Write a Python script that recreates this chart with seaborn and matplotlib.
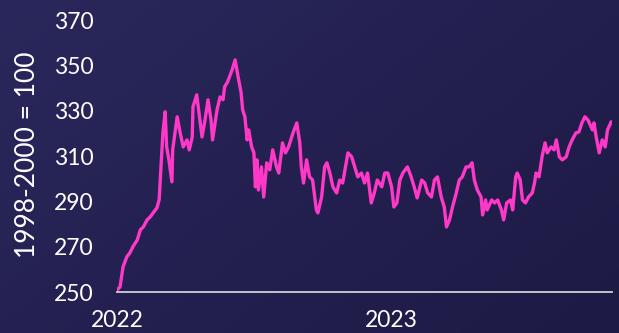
import numpy as np
import pandas as pd
import matplotlib
matplotlib.use("Agg")
import matplotlib.pyplot as plt
import seaborn as sns

dates = [
    "2022-01-01", "2022-01-05", "2022-01-09", "2022-01-14", "2022-01-18", "2022-01-22",
    "2022-01-28", "2022-02-01", "2022-02-05", "2022-02-10", "2022-02-14", "2022-02-18",
    "2022-02-23", "2022-02-26", "2022-02-28", "2022-03-03", "2022-03-06", "2022-03-08",
    "2022-03-11", "2022-03-15", "2022-03-16", "2022-03-22", "2022-03-26", "2022-03-30",
    "2022-04-04", "2022-04-07", "2022-04-11", "2022-04-12", "2022-04-17", "2022-04-20",
    "2022-04-24", "2022-04-28", "2022-05-02", "2022-05-06", "2022-05-08", "2022-05-14",
    "2022-05-18", "2022-05-22", "2022-05-24", "2022-05-28", "2022-06-03", "2022-06-07",
    "2022-06-11", "2022-06-15", "2022-06-17", "2022-06-20", "2022-06-23", "2022-06-25",
    "2022-06-29", "2022-07-02", "2022-07-04", "2022-07-06", "2022-07-08", "2022-07-12",
    "2022-07-15", "2022-07-19", "2022-07-23", "2022-07-27", "2022-08-01", "2022-08-04",
    "2022-08-09", "2022-08-13", "2022-08-17", "2022-08-23", "2022-08-28", "2022-09-01",
    "2022-09-03", "2022-09-06", "2022-09-10", "2022-09-14", "2022-09-18", "2022-09-23",
    "2022-09-25", "2022-09-30", "2022-10-04", "2022-10-07", "2022-10-11", "2022-10-15",
    "2022-10-20", "2022-10-24", "2022-10-28", "2022-11-04", "2022-11-09", "2022-11-13",
    "2022-11-17", "2022-11-22", "2022-11-26", "2022-11-30", "2022-12-05", "2022-12-09",
    "2022-12-13", "2022-12-19", "2022-12-23", "2022-12-27", "2023-01-01", "2023-01-04",
    "2023-01-08", "2023-01-12", "2023-01-16", "2023-01-22", "2023-01-27", "2023-01-31",
    "2023-02-04", "2023-02-10", "2023-02-14", "2023-02-18", "2023-02-23", "2023-02-27",
    "2023-03-03", "2023-03-08", "2023-03-12", "2023-03-15", "2023-03-19", "2023-03-23",
    "2023-03-28", "2023-04-01", "2023-04-05", "2023-04-10", "2023-04-14", "2023-04-18",
    "2023-04-21", "2023-04-25", "2023-04-30", "2023-05-02", "2023-05-06", "2023-05-08",
    "2023-05-14", "2023-05-18", "2023-05-22", "2023-05-27", "2023-05-30", "2023-06-03",
    "2023-06-08", "2023-06-11", "2023-06-15", "2023-06-17", "2023-06-21", "2023-06-24",
    "2023-06-28", "2023-07-02", "2023-07-07", "2023-07-10", "2023-07-12", "2023-07-16",
    "2023-07-20", "2023-07-24", "2023-07-27", "2023-08-01", "2023-08-05", "2023-08-08",
    "2023-08-12", "2023-08-16", "2023-08-21", "2023-08-25", "2023-08-29", "2023-09-03",
    "2023-09-07", "2023-09-11", "2023-09-15", "2023-09-19", "2023-09-25", "2023-09-27",
    "2023-09-30", "2023-10-04", "2023-10-08", "2023-10-12", "2023-10-15", "2023-10-20",
]

values = [
    250.9, 252.2, 261.0, 265.5, 267.2, 269.9,
    273.0, 277.4, 278.7, 281.8, 283.1, 284.9,
    287.1, 290.6, 302.5, 320.2, 329.5, 314.0,
    308.3, 298.6, 312.7, 327.3, 320.2, 314.0,
    317.1, 312.7, 318.4, 331.7, 337.0, 329.0,
    318.4, 325.9, 334.8, 325.9, 317.1, 330.4,
    336.1, 334.8, 340.5, 342.7, 348.0, 352.4,
    344.9, 337.9, 330.4, 327.3, 317.1, 321.5,
    314.0, 311.4, 296.4, 308.3, 295.0, 305.2,
    291.9, 307.0, 303.9, 312.7, 305.2, 302.5,
    315.8, 311.4, 314.0, 320.2, 324.6, 315.8,
    305.2, 298.1, 308.3, 300.8, 299.4, 286.2,
    284.9, 291.9, 305.2, 307.0, 302.5, 296.4,
    293.7, 299.4, 298.1, 311.4, 309.6, 305.2,
    300.8, 302.5, 298.1, 302.5, 289.3, 293.7,
    299.4, 296.4, 302.5, 302.5, 296.4, 287.5,
    289.3, 299.4, 302.5, 305.2, 300.8, 296.4,
    291.5, 299.4, 298.1, 293.7, 291.9, 299.4,
    300.8, 291.9, 287.5, 278.7, 281.8, 287.5,
    293.7, 299.4, 300.8, 305.2, 305.2, 307.0,
    299.4, 295.0, 291.9, 284.0, 290.6, 286.2,
    290.6, 289.3, 290.6, 286.2, 281.8, 289.3,
    290.6, 286.2, 300.8, 302.5, 299.4, 290.6,
    289.3, 291.9, 293.7, 298.1, 302.5, 300.8,
    309.6, 315.8, 311.4, 314.0, 312.7, 317.1,
    309.6, 308.3, 309.6, 314.0, 317.1, 320.2,
    320.6, 324.6, 327.3, 325.9, 321.5, 324.6,
    318.4, 311.4, 317.1, 314.0, 321.5, 325.1,
]

y_ticks = [250, 270, 290, 310, 330, 350, 370]
x_ticks = ["2022-01-01", "2023-01-01"]
x_tick_labels = ["2022", "2023"]
y_label = "1998-2000 = 100"

df = pd.DataFrame({"date": pd.to_datetime(dates), "value": values})

sns.set_style("white")
plt.rcParams["font.family"] = ["Lato", "DejaVu Sans"]

fig = plt.figure(figsize=(6.19, 3.33), dpi=100)

# gradient background
bg = fig.add_axes([0, 0, 1, 1], zorder=0)
gx, gy = np.meshgrid(np.linspace(0, 1, 200), np.linspace(0, 1, 120))
t = (gx * 0.6 + gy * 0.4)
c0 = np.array([0x2a, 0x27, 0x5c]) / 255.0
c1 = np.array([0x1d, 0x1a, 0x45]) / 255.0
img = c0[None, None, :] * (1 - t[..., None]) + c1[None, None, :] * t[..., None]
bg.imshow(img, aspect="auto", extent=[0, 1, 0, 1], origin="upper")
bg.axis("off")

ax = fig.add_axes([117 / 619, (333 - 292) / 333, (612 - 117) / 619, (292 - 20) / 333], zorder=1)
ax.patch.set_alpha(0)

sns.lineplot(data=df, x="date", y="value", ax=ax, color="#ff38c8", linewidth=2.4)

ax.set_ylim(250, 370)
ax.set_xlim(pd.Timestamp("2022-01-01"), pd.Timestamp("2023-10-21"))
ax.set_yticks(y_ticks)
ax.set_yticklabels([str(v) for v in y_ticks])
ax.set_xticks(pd.to_datetime(x_ticks))
ax.set_xticklabels(x_tick_labels)
ax.set_xlabel("")
ax.set_ylabel("")

for s in ["top", "right", "left"]:
    ax.spines[s].set_visible(False)
ax.spines["bottom"].set_color("#d0d0d8")
ax.spines["bottom"].set_linewidth(1.3)

ax.tick_params(axis="x", colors="#d0d0d8", length=4, width=1.3, direction="out",
               labelcolor="white", labelsize=16.5, pad=9)
ax.tick_params(axis="y", length=0, labelcolor="white", labelsize=16.5, pad=17)

fig.text(28 / 619, (333 - 155) / 333, y_label, rotation=90, color="white",
         fontsize=19, ha="center", va="center")

fig.savefig("out.png", dpi=100)
